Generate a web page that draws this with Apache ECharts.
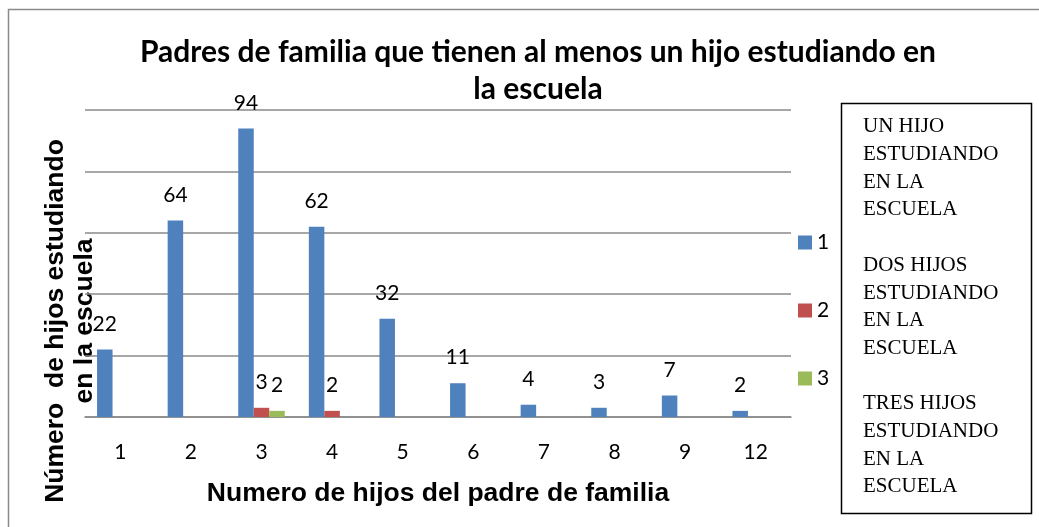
<!DOCTYPE html>
<html>
<head>
<meta charset="utf-8">
<script src="https://cdn.jsdelivr.net/npm/echarts@6/dist/echarts.min.js"></script>
<style>html,body{margin:0;padding:0;background:#fff}#c{width:1039px;height:527px}</style>
</head>
<body>
<div id="c"></div>
<script>
const categories = ['1','2','3','4','5','6','7','8','9','12'];
const seriesNames = ['1','2','3'];
const unHijo = [22,64,94,62,32,11,4,3,7,2];
const dosHijos = [null,null,3,2,null,null,null,null,null,null];
const tresHijos = [null,null,2,null,null,null,null,null,null,null];
const yTicks = {min:0, max:100, interval:20};
const titleText = 'Padres de familia que tienen al menos un hijo estudiando en\nla escuela';
const xTitle = 'Numero de hijos del padre de familia';
const yTitle = 'Número  de hijos estudiando\nen la escuela';
const noteText = 'UN HIJO\nESTUDIANDO\nEN LA\nESCUELA\n\nDOS HIJOS\nESTUDIANDO\nEN LA\nESCUELA\n\nTRES HIJOS\nESTUDIANDO\nEN LA\nESCUELA';

const colors = ['#4F81BD','#C0504D','#9BBB59'];
const calibri = 'Lato, "Open Sans", sans-serif';
const labelStyle = {show:true, position:'top', distance:15, fontFamily:calibri, fontSize:21, color:'#000'};

const chart = echarts.init(document.getElementById('c'), null, {renderer:'canvas'});
chart.setOption({
  animation:false,
  color: colors,
  title:{
    text:titleText, left:533, top:29, textAlign:'center',
    textStyle:{fontFamily:calibri, fontWeight:'bold', fontSize:30, lineHeight:37, color:'#000'}
  },
  grid:{left:85, right:248, top:110, bottom:110, containLabel:false},
  legend:{
    orient:'vertical', left:793, top:227, itemWidth:14, itemHeight:14, itemGap:47,
    icon:'rect', data:seriesNames,
    textStyle:{fontFamily:calibri, fontSize:21, color:'#000'}
  },
  xAxis:{
    type:'category', data:categories,
    axisLine:{show:true, lineStyle:{color:'#8a8a8a', width:1.5}},
    axisTick:{show:false},
    axisLabel:{fontFamily:calibri, fontSize:21, color:'#000', margin:25},
    name:xTitle, nameLocation:'middle', nameGap:63,
    nameTextStyle:{fontFamily:'"Liberation Sans", Arial, sans-serif', fontWeight:'bold', fontSize:26.5, color:'#000'}
  },
  yAxis:{
    type:'value', min:yTicks.min, max:yTicks.max, interval:yTicks.interval,
    axisLine:{show:false}, axisTick:{show:false}, axisLabel:{show:false},
    splitLine:{lineStyle:{color:'#8a8a8a', width:1.5}}
  },
  series:[
    {name:seriesNames[0], type:'bar', data:unHijo, barWidth:15.5, barGap:'0%', label:labelStyle},
    {name:seriesNames[1], type:'bar', data:dosHijos, barWidth:15.5, barGap:'0%', label:labelStyle},
    {name:seriesNames[2], type:'bar', data:tresHijos, barWidth:15.5, barGap:'0%', label:labelStyle}
  ],
  graphic:[
    {type:'rect', shape:{x:8.5, y:9.5, width:1040, height:530}, style:{fill:null, stroke:'#8a8a8a', lineWidth:1.5}, silent:true},
    {type:'text', x:70.5, y:321, rotation:Math.PI/2,
      style:{text:yTitle, align:'center', verticalAlign:'middle', lineHeight:29,
        font:'bold 26.5px "Liberation Sans", Arial, sans-serif', fill:'#000'}},
    {type:'rect', shape:{x:841.5, y:103.5, width:190, height:410}, style:{fill:'#fff', stroke:'#000', lineWidth:1.5}},
    {type:'text', x:863, y:113,
      style:{text:noteText, align:'left', verticalAlign:'top', lineHeight:27.7,
        font:'21px "Liberation Serif", "Times New Roman", serif', fill:'#000'}}
  ]
});
</script>
</body>
</html>
